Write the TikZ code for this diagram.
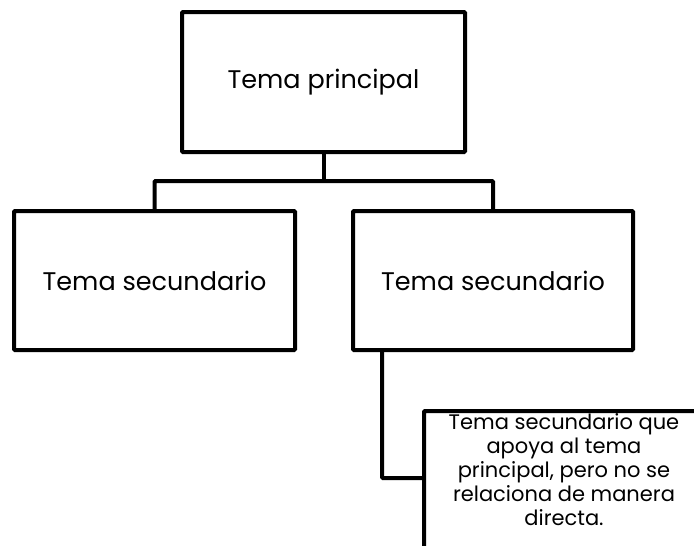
\documentclass[tikz,border=0pt]{standalone}
\usepackage{fontspec}
\setmainfont{Poppins}
\begin{document}
\begin{tikzpicture}[x=1pt,y=-1pt,
  box/.style={draw, line width=4pt, rounded corners=1pt, align=center, inner sep=0pt},
  conn/.style={line width=4pt, rounded corners=1pt},
  bigtext/.style={font=\fontsize{25.5}{30}\selectfont},
  smalltext/.style={font=\fontsize{21}{24}\selectfont, align=center, inner sep=0pt}]
\clip (0,0) rectangle (694,546);
\node[box, bigtext, minimum width=283pt, minimum height=140pt] (main) at (323.5,82) {Tema principal};
\node[box, bigtext, minimum width=281pt, minimum height=139pt] (left) at (154.5,280.5) {Tema secundario};
\node[box, bigtext, minimum width=280pt, minimum height=139pt] (right) at (493,280.5) {Tema secundario};
\node[box, minimum width=280pt, minimum height=170pt, anchor=north west] (sub) at (422,409) {};
\node[smalltext, anchor=north] (subtxt) at ([yshift=-4pt]sub.north) {Tema secundario que\\apoya al tema\\principal, pero no se\\relaciona de manera\\directa.};
\coordinate (mid) at (323.5,181);
\draw[conn] (main.south) -- (mid);
\draw[conn] (left.north) |- (mid) -| (right.north);
\coordinate (bend) at (382,478);
\draw[conn] (right.south -| bend) -- (bend) -- (sub.west |- bend);
\end{tikzpicture}
\end{document}
